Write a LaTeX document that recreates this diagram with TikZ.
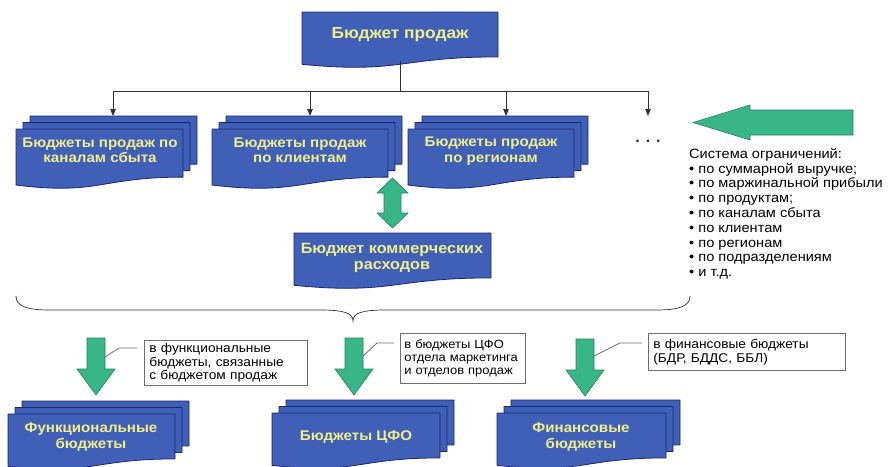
\documentclass[tikz,border=0pt]{standalone}
\usepackage{fontspec}
\setmainfont{Liberation Sans}
\newfontfamily\widefont{Liberation Sans}[FakeStretch=1.08]
\usetikzlibrary{arrows.meta,calc}
\definecolor{docblue}{RGB}{64,96,184}
\definecolor{docedge}{RGB}{28,38,110}
\definecolor{doctext}{RGB}{240,238,140}
\definecolor{arrgreen}{RGB}{56,182,138}
\definecolor{arredge}{RGB}{36,130,96}
\definecolor{lineclr}{RGB}{50,50,50}
\definecolor{callclr}{RGB}{110,110,110}
\tikzset{
  docstyle/.style={fill=docblue,draw=docedge,line width=0.8pt,line join=round},
  boxtext/.style={text=doctext,font=\widefont\fontsize{14}{15.5}\selectfont\bfseries,align=center,inner sep=0pt},
  greenarrow/.style={fill=arrgreen,draw=arredge,line width=0.6pt,line join=miter},
  treeline/.style={draw=lineclr,line width=0.8pt},
  treearrow/.style={treeline,-{Triangle[length=7pt,width=5.5pt]}},
  callbox/.style={draw=callclr,line width=0.8pt,fill=white,align=left,inner xsep=5pt,inner ysep=3pt,
     font=\widefont\fontsize{12.7}{13.6}\selectfont,anchor=north west},
  callline/.style={draw=callclr,line width=0.8pt},
  limtext/.style={font=\widefont\fontsize{13.5}{14.8}\selectfont,align=left,inner sep=0pt,anchor=north west},
}
\newcommand\docshape[4]{%
  \filldraw[docstyle] (#1,#2) -- (#1+#3,#2) -- (#1+#3,#2+0.802*#4)
    .. controls (#1+0.5*#3,#2+0.802*#4) and (#1+0.5*#3,#2+1.107*#4) .. (#1,#2+0.934*#4) -- cycle;}
\newcommand\multidoc[4]{%
  \docshape{#1+14}{#2-13}{#3}{#4}\docshape{#1+7}{#2-6.5}{#3}{#4}\docshape{#1}{#2}{#3}{#4}}
\newcommand\gdownarrow[2]{%
  \filldraw[greenarrow] (#1-9,#2) -- (#1+9,#2) -- (#1+9,#2+31) -- (#1+19,#2+31) -- (#1,#2+57)
    -- (#1-19,#2+31) -- (#1-9,#2+31) -- cycle;}
\begin{document}
\begin{tikzpicture}[x=1pt,y=-1pt]
\useasboundingbox[fill=white] (0,0) rectangle (889,466);
\clip (0,0) rectangle (889,466);

% top box
\docshape{302}{12}{196}{56}
\node[boxtext,font=\widefont\fontsize{16}{17}\selectfont\bfseries] (sales) at (400,35) {Бюджет продаж};

% tree
\coordinate (salesbot) at (400,61);
\coordinate (bus) at (400,91);
\coordinate (s1in) at (113,116);
\coordinate (s2in) at (310,116);
\coordinate (s3in) at (506,116);
\coordinate (dotsin) at (648,116);
\draw[treeline] (salesbot) -- (bus);
\draw[treearrow] (bus) -| (s1in);
\draw[treearrow] (bus) -| (s2in);
\draw[treearrow] (bus) -| (s3in);
\draw[treearrow] (bus) -| (dotsin);

% top row stacks
\multidoc{16}{129}{167}{60}
\node[boxtext] (chan) at (100,150) {Бюджеты продаж по\\каналам сбыта};
\multidoc{212}{129}{176}{60}
\node[boxtext] (cli) at (300,150) {Бюджеты продаж\\по клиентам};
\multidoc{408}{129}{166}{60}
\node[boxtext] (reg) at (491,151) {Бюджеты продаж\\по регионам};
\node[font=\fontsize{16}{16}\selectfont\bfseries,text=lineclr] (dots) at (648,141) {. . .};

% big left arrow
\filldraw[greenarrow] (853,110) -- (750,110) -- (750,105) -- (693,122.5) -- (750,140) -- (750,135) -- (853,135) -- cycle;
\node[limtext] (limits) at (689,148) {Система ограничений:\\
• по суммарной выручке;\\
• по маржинальной прибыли\\
• по продуктам;\\
• по каналам сбыта\\
• по клиентам\\
• по регионам\\
• по подразделениям\\
• и т.д.};

% double arrow
\filldraw[greenarrow] (392.5,178) -- (408,193) -- (401,193) -- (401,213) -- (408,213) -- (392.5,228)
  -- (377,213) -- (384,213) -- (384,193) -- (377,193) -- cycle;

% commercial expenses
\docshape{294}{233}{197}{56}
\node[boxtext,font=\widefont\fontsize{15}{16.5}\selectfont\bfseries] (comm) at (392,258) {Бюджет коммерческих\\расходов};

% brace
\draw[draw=lineclr,line width=0.7pt] (16,296) .. controls (16,306) and (26,310) .. (50,310) -- (320,310)
  .. controls (344,310) and (353,313) .. (353,321) .. controls (353,313) and (362,310) .. (386,310)
  -- (656,310) .. controls (680,310) and (690,306) .. (690,296);

% bottom arrows
\gdownarrow{96}{338}
\gdownarrow{354}{338}
\gdownarrow{585}{339}
\coordinate (a1s) at (105,357);
\coordinate (a2s) at (363,356);
\coordinate (a3s) at (594,356);

% callouts
\node[callbox,text width=153pt,minimum height=45pt] (c1) at (144,340) {в функциональные\\бюджеты, связанные\\с бюджетом продаж};
\node[callbox,text width=117pt,inner xsep=4pt,minimum height=50pt,font=\widefont\fontsize{12}{12.8}\selectfont] (c2) at (400,333) {в бюджеты ЦФО\\отдела маркетинга\\и отделов продаж};
\node[callbox,text width=187pt,minimum height=37pt] (c3) at (648,333) {в финансовые бюджеты\\(БДР, БДДС, ББЛ)};
\draw[callline] ($(c1.north west)+(-7,8)$) -- ++(-18,0) -- (a1s);
\draw[callline] ($(c2.north west)+(-6,10)$) -- ++(-17,0) -- (a2s);
\draw[callline] ($(c3.north west)+(-6,10)$) -- ++(-22,0) -- (a3s);

% bottom stacks
\multidoc{8}{414}{167}{56}
\node[boxtext] (func) at (91,437) {Функциональные\\бюджеты};
\multidoc{272}{413}{168}{56}
\node[boxtext] (cfo) at (356,437) {Бюджеты ЦФО};
\multidoc{497}{413}{169}{56}
\node[boxtext] (fin) at (581,437) {Финансовые\\бюджеты};
\end{tikzpicture}
\end{document}
